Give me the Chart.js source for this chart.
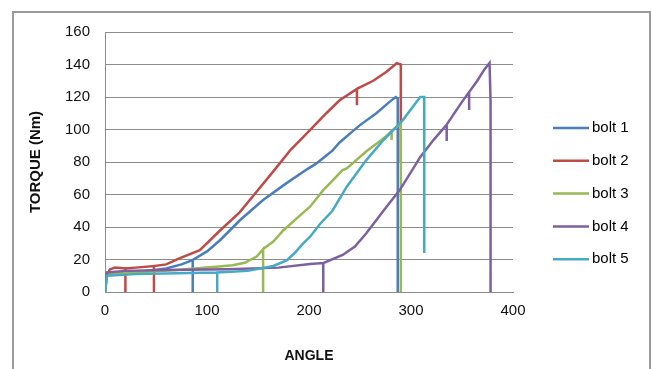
<!DOCTYPE html>
<html>
<head>
<meta charset="utf-8">
<script src="https://cdn.jsdelivr.net/npm/chart.js@4"></script>
<style>
    html, body { margin: 0; padding: 0; background: #fff; }
    #wrap { position: relative; width: 651px; height: 369px; }
</style>
</head>
<body>
<div id="wrap"><canvas id="chart" width="651" height="369"></canvas></div>
<script>
// Torque vs angle.
// Repeated angles make the vertical drops.
const seriesNames = ['bolt 1', 'bolt 2', 'bolt 3', 'bolt 4', 'bolt 5'];
const seriesColours = ['#4A7EBB', '#BE4B48', '#98B954', '#7D60A0', '#46AAC5'];

const bolt1Angle  = [0, 1, 10, 40, 60, 75, 86, 86, 86, 100, 113, 132, 155, 178, 198, 207, 217, 223, 230, 243, 250, 266, 279, 285, 287, 287];
const bolt1Torque = [0, 11, 12, 13, 14.5, 17, 19.7, 0, 19.7, 25, 32, 44, 56.6, 67, 75.5, 79, 84, 87, 92, 99, 102.7, 110, 117, 120, 119, 0];

const bolt2Angle  = [0, 1, 5, 10, 20, 20, 20, 30, 48, 48, 48, 60, 73.5, 93, 113, 132, 149, 166, 182, 200, 217, 230, 247, 247, 247, 263, 276, 286, 290, 290];
const bolt2Torque = [0, 10, 14, 15, 14.5, 0, 14.5, 15, 16, 0, 16, 17, 20.9, 25.8, 38, 49, 62, 75, 87.5, 99, 110, 118, 125, 115, 125, 130, 135.5, 140.8, 140, 80];

const bolt3Angle  = [0, 2, 30, 70, 109, 125, 137, 149, 155, 155, 155, 165, 175, 191, 201, 214, 233, 237, 256, 271, 276, 281, 281, 281, 286, 290, 290];
const bolt3Torque = [0, 11, 12, 13.5, 15.5, 16.5, 18, 22, 26.4, 0, 26.4, 31, 38, 47, 52.5, 62.7, 75, 76, 86.5, 93.5, 96, 99, 93.5, 99, 101.7, 104, 0];

const bolt4Angle  = [0, 2, 20, 60, 120, 170, 201, 214, 214, 214, 233, 245, 256, 276, 289, 309, 322, 335, 335, 335, 350, 357, 357, 357, 365, 372, 377, 378, 378];
const bolt4Torque = [0, 12, 13, 13.5, 14, 15, 17.2, 17.8, 0, 17.8, 22.8, 28, 36, 52.5, 62.7, 83, 93.5, 103, 93, 103, 117, 123, 112, 123, 130, 137, 141, 118, 0];

const bolt5Angle  = [0, 2, 30, 70, 110, 110, 110, 140, 165, 178, 186, 193, 201, 211, 223, 237, 256, 273, 292, 309, 313, 313];
const bolt5Torque = [0, 10, 11, 11.5, 12, 0, 12, 13, 16, 19.5, 24, 29, 34, 42, 50, 64.8, 81, 93.5, 105.8, 120, 120, 24];

const angleData = [bolt1Angle, bolt2Angle, bolt3Angle, bolt4Angle, bolt5Angle];
const torqueData = [bolt1Torque, bolt2Torque, bolt3Torque, bolt4Torque, bolt5Torque];

const yTicks = [0, 20, 40, 60, 80, 100, 120, 140, 160];
const xTicks = [0, 100, 200, 300, 400];

const gridGrey = '#8c8c8c';
const fontFamily = "'Liberation Sans', Arial, sans-serif";

function toPoints(angles, torques) {
    return angles.map((a, i) => ({x: a, y: torques[i]}));
}

// Excel style frame round the chart
const framePlugin = {
    id: 'frame',
    beforeDraw(chart) {
        const ctx = chart.ctx;
        ctx.save();
        ctx.strokeStyle = '#9a9a9a';
        ctx.lineWidth = 2;
        ctx.beginPath();
        ctx.moveTo(13, 380);
        ctx.lineTo(13, 12);
        ctx.lineTo(650, 12);
        ctx.lineTo(650, 380);
        ctx.stroke();
        ctx.restore();
    }
};

// Legend on the right, line samples with labels
const legendPlugin = {
    id: 'sideLegend',
    afterDraw(chart) {
        const ctx = chart.ctx;
        ctx.save();
        ctx.font = '15px ' + fontFamily;
        ctx.textBaseline = 'middle';
        ctx.fillStyle = '#000';
        chart.data.datasets.forEach((ds, i) => {
            const y = 128 + i * 32.8;
            ctx.strokeStyle = ds.borderColor;
            ctx.lineWidth = 2.5;
            ctx.beginPath();
            ctx.moveTo(553, y);
            ctx.lineTo(589, y);
            ctx.stroke();
            ctx.fillText(ds.label, 592, y);
        });
        ctx.restore();
    }
};

const datasets = seriesNames.map((name, i) => ({
    label: name,
    data: toPoints(angleData[i], torqueData[i]),
    borderColor: seriesColours[i],
    backgroundColor: seriesColours[i],
    borderWidth: 2.5,
    pointRadius: 0,
    showLine: true,
    tension: 0,
    order: seriesNames.length - 1 - i
}));

new Chart(document.getElementById('chart').getContext('2d'), {
    type: 'scatter',
    data: {datasets: datasets},
    options: {
        responsive: false,
        animation: false,
        layout: {
            padding: {left: 0, top: 32, right: 138, bottom: 0}
        },
        plugins: {
            legend: {display: false},
            tooltip: {enabled: false}
        },
        scales: {
            x: {
                type: 'linear',
                min: 0,
                max: 400,
                afterFit(scale) { scale.height = 77; },
                afterBuildTicks(scale) { scale.ticks = xTicks.map(v => ({value: v})); },
                grid: {color: 'rgba(0,0,0,0)', drawTicks: false},
                border: {color: gridGrey, width: 1},
                ticks: {
                    padding: 10,
                    color: '#111',
                    font: {family: fontFamily, size: 15},
                    maxRotation: 0
                },
                title: {
                    display: true,
                    text: 'ANGLE',
                    color: '#111',
                    font: {family: fontFamily, size: 14, weight: 'bold'},
                    padding: {top: 0, bottom: 4}
                }
            },
            y: {
                type: 'linear',
                min: 0,
                max: 160,
                afterFit(scale) { scale.width = 105; },
                afterBuildTicks(scale) { scale.ticks = yTicks.map(v => ({value: v})); },
                grid: {color: gridGrey, lineWidth: 1, drawTicks: false},
                border: {color: gridGrey, width: 1},
                ticks: {
                    padding: 15,
                    color: '#111',
                    font: {family: fontFamily, size: 15}
                },
                title: {
                    display: true,
                    text: 'TORQUE (Nm)',
                    color: '#111',
                    font: {family: fontFamily, size: 15, weight: 'bold'},
                    padding: {top: 27, bottom: 0}
                }
            }
        }
    },
    plugins: [framePlugin, legendPlugin]
});
</script>
</body>
</html>
